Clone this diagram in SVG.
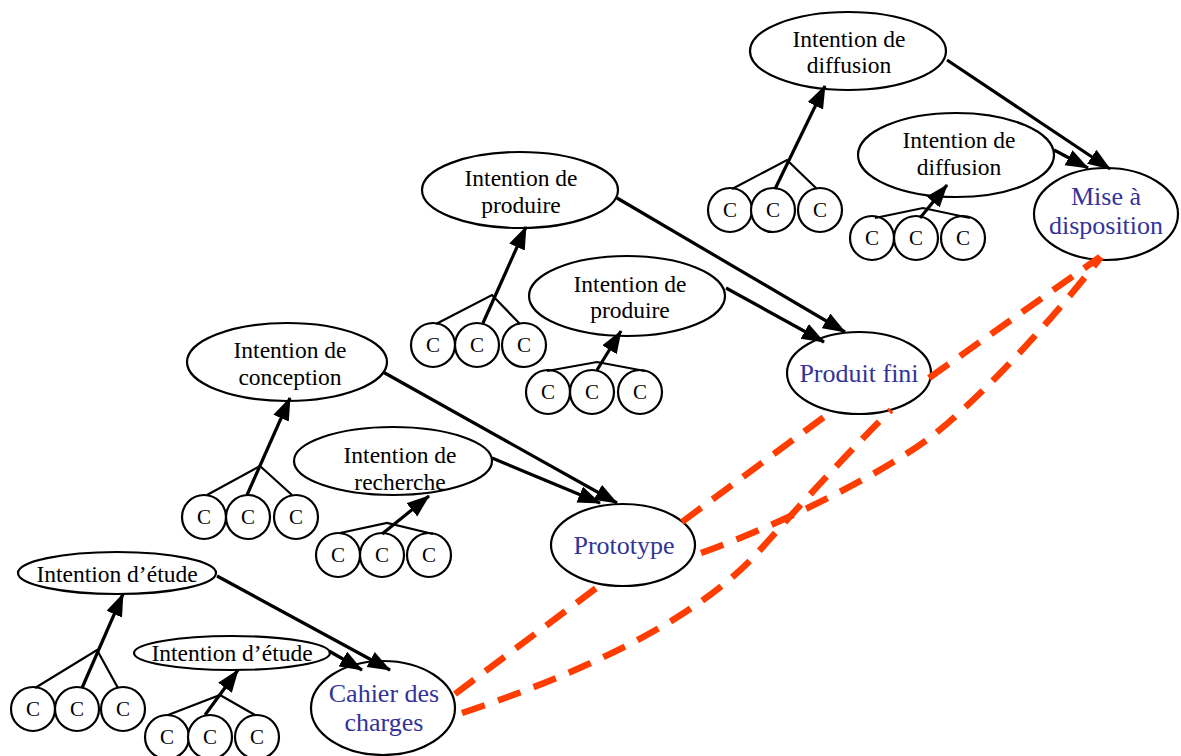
<svg xmlns="http://www.w3.org/2000/svg" width="1181" height="756" viewBox="0 0 1181 756">
<style>
.el{fill:#fff;stroke:#000;stroke-width:2.2}
.c{fill:#fff;stroke:#000;stroke-width:2.2}
.t{font-family:"Liberation Serif","Times New Roman",serif;font-size:23.5px;fill:#000;text-anchor:middle}
.ct{font-family:"Liberation Serif","Times New Roman",serif;font-size:21px;fill:#000;text-anchor:middle}
.b{font-family:"Liberation Serif","Times New Roman",serif;font-size:26px;fill:#333399;text-anchor:middle}
.ar{stroke:#000;stroke-width:3.2;fill:none;marker-end:url(#ah)}
.tr{stroke:#000;stroke-width:2.2;fill:none}
.rd{stroke:#ff3d00;stroke-width:6.5;fill:none;stroke-dasharray:24 14}
</style>
<defs>
<marker id="ah" markerUnits="userSpaceOnUse" markerWidth="24" markerHeight="18" refX="22" refY="8.5" orient="auto">
<path d="M0,0 L23,8.5 L0,17 z" fill="#000"/>
</marker>
</defs>
<rect width="1181" height="756" fill="#fff"/>

<!-- nodes -->
<g id="etude1"><ellipse class="el" cx="117" cy="573" rx="99" ry="21"/><text class="t" x="117" y="582">Intention d’étude</text></g>
<g id="etude1-c1"><circle class="c" cx="33" cy="709" r="22"/><text class="ct" x="33" y="716">C</text></g>
<g id="etude1-c2"><circle class="c" cx="77" cy="709" r="22"/><text class="ct" x="77" y="716">C</text></g>
<g id="etude1-c3"><circle class="c" cx="123" cy="709" r="22"/><text class="ct" x="123" y="716">C</text></g>

<g id="etude2"><ellipse class="el" cx="232" cy="653" rx="98" ry="17"/><text class="t" x="232" y="661">Intention d’étude</text></g>
<g id="etude2-c1"><circle class="c" cx="167" cy="737" r="22"/><text class="ct" x="167" y="744">C</text></g>
<g id="etude2-c2"><circle class="c" cx="210" cy="737" r="22"/><text class="ct" x="210" y="744">C</text></g>
<g id="etude2-c3"><circle class="c" cx="257" cy="737" r="22"/><text class="ct" x="257" y="744">C</text></g>

<g id="cahier"><ellipse class="el" cx="383" cy="708" rx="72" ry="47"/><text class="b" x="384" y="702">Cahier des</text><text class="b" x="384" y="731">charges</text></g>

<g id="conception"><ellipse class="el" cx="287" cy="362" rx="100" ry="39"/><text class="t" x="290" y="358">Intention de</text><text class="t" x="290" y="385">conception</text></g>
<g id="conception-c1"><circle class="c" cx="204" cy="517" r="22"/><text class="ct" x="204" y="524">C</text></g>
<g id="conception-c2"><circle class="c" cx="248" cy="517" r="22"/><text class="ct" x="248" y="524">C</text></g>
<g id="conception-c3"><circle class="c" cx="296" cy="517" r="22"/><text class="ct" x="296" y="524">C</text></g>

<g id="recherche"><ellipse class="el" cx="393" cy="461" rx="99" ry="34"/><text class="t" x="400" y="463">Intention de</text><text class="t" x="400" y="490">recherche</text></g>
<g id="recherche-c1"><circle class="c" cx="338" cy="555" r="22"/><text class="ct" x="338" y="562">C</text></g>
<g id="recherche-c2"><circle class="c" cx="382" cy="555" r="22"/><text class="ct" x="382" y="562">C</text></g>
<g id="recherche-c3"><circle class="c" cx="429" cy="555" r="22"/><text class="ct" x="429" y="562">C</text></g>

<g id="prototype"><ellipse class="el" cx="623" cy="545" rx="72" ry="41"/><text class="b" x="624" y="554">Prototype</text></g>

<g id="produire1"><ellipse class="el" cx="520" cy="190" rx="98" ry="38"/><text class="t" x="521" y="186">Intention de</text><text class="t" x="521" y="213">produire</text></g>
<g id="produire1-c1"><circle class="c" cx="433" cy="345" r="22"/><text class="ct" x="433" y="352">C</text></g>
<g id="produire1-c2"><circle class="c" cx="477" cy="345" r="22"/><text class="ct" x="477" y="352">C</text></g>
<g id="produire1-c3"><circle class="c" cx="524" cy="345" r="22"/><text class="ct" x="524" y="352">C</text></g>

<g id="produire2"><ellipse class="el" cx="627" cy="296" rx="98" ry="40"/><text class="t" x="630" y="292">Intention de</text><text class="t" x="630" y="318">produire</text></g>
<g id="produire2-c1"><circle class="c" cx="548" cy="392" r="22"/><text class="ct" x="548" y="399">C</text></g>
<g id="produire2-c2"><circle class="c" cx="592" cy="392" r="22"/><text class="ct" x="592" y="399">C</text></g>
<g id="produire2-c3"><circle class="c" cx="640" cy="392" r="22"/><text class="ct" x="640" y="399">C</text></g>

<g id="produit-fini"><ellipse class="el" cx="859" cy="373" rx="72" ry="41"/><text class="b" x="859" y="382">Produit fini</text></g>

<g id="diffusion1"><ellipse class="el" cx="848" cy="51" rx="98" ry="39"/><text class="t" x="849" y="47">Intention de</text><text class="t" x="849" y="73">diffusion</text></g>
<g id="diffusion1-c1"><circle class="c" cx="730" cy="210" r="22"/><text class="ct" x="730" y="217">C</text></g>
<g id="diffusion1-c2"><circle class="c" cx="773" cy="210" r="22"/><text class="ct" x="773" y="217">C</text></g>
<g id="diffusion1-c3"><circle class="c" cx="820" cy="210" r="22"/><text class="ct" x="820" y="217">C</text></g>

<g id="diffusion2"><ellipse class="el" cx="956" cy="155" rx="98" ry="42"/><text class="t" x="959" y="148">Intention de</text><text class="t" x="959" y="175">diffusion</text></g>
<g id="diffusion2-c1"><circle class="c" cx="872" cy="238" r="22"/><text class="ct" x="872" y="245">C</text></g>
<g id="diffusion2-c2"><circle class="c" cx="916" cy="238" r="22"/><text class="ct" x="916" y="245">C</text></g>
<g id="diffusion2-c3"><circle class="c" cx="963" cy="238" r="22"/><text class="ct" x="963" y="245">C</text></g>

<g id="mise"><ellipse class="el" cx="1106" cy="214" rx="72" ry="46"/><text class="b" x="1106" y="205">Mise à</text><text class="b" x="1106" y="234">disposition</text></g>

<!-- connectors -->
<g id="connectors">
<path class="tr" d="M35,688 L97,650 L118,688"/>
<path class="ar" d="M82,688 L123,594"/>
<path class="tr" d="M168,715 L220,695 L255,715"/>
<path class="ar" d="M205,715 L238,670"/>
<path class="ar" d="M217,576 L390,670"/>
<path class="ar" d="M329,651 L362,670"/>

<path class="tr" d="M207,495 L260,466 L292,495"/>
<path class="ar" d="M247,495 L290,398"/>
<path class="tr" d="M340,533 L387,523 L433,534"/>
<path class="ar" d="M382,534 L429,496"/>
<path class="ar" d="M383,372 L617,503"/>
<path class="ar" d="M492,458 L600,503"/>

<path class="tr" d="M436,324 L492,295 L520,324"/>
<path class="ar" d="M483,323 L526,227"/>
<path class="tr" d="M547,371 L597,362 L645,371"/>
<path class="ar" d="M597,370 L621,331"/>
<path class="ar" d="M617,198 L845,332"/>
<path class="ar" d="M726,288 L824,342"/>

<path class="tr" d="M732,189 L787,160 L817,189"/>
<path class="ar" d="M775,189 L825,86"/>
<path class="tr" d="M875,218 L923,208 L970,218"/>
<path class="ar" d="M920,218 L947,185"/>
<path class="ar" d="M947,60 L1110,169"/>
<path class="ar" d="M1054,150 L1088,168"/>

<path class="rd" d="M455,694 L603,583"/>
<path class="rd" d="M682,522 L832,411"/>
<path class="rd" d="M929,378 L1100,257"/>
<path class="rd" d="M462,713 Q680,640 760,550 T891,410"/>
<path class="rd" d="M701,553 C780,525 880,475 931,437 C990,390 1060,310 1101,257"/>
</g>
</svg>
